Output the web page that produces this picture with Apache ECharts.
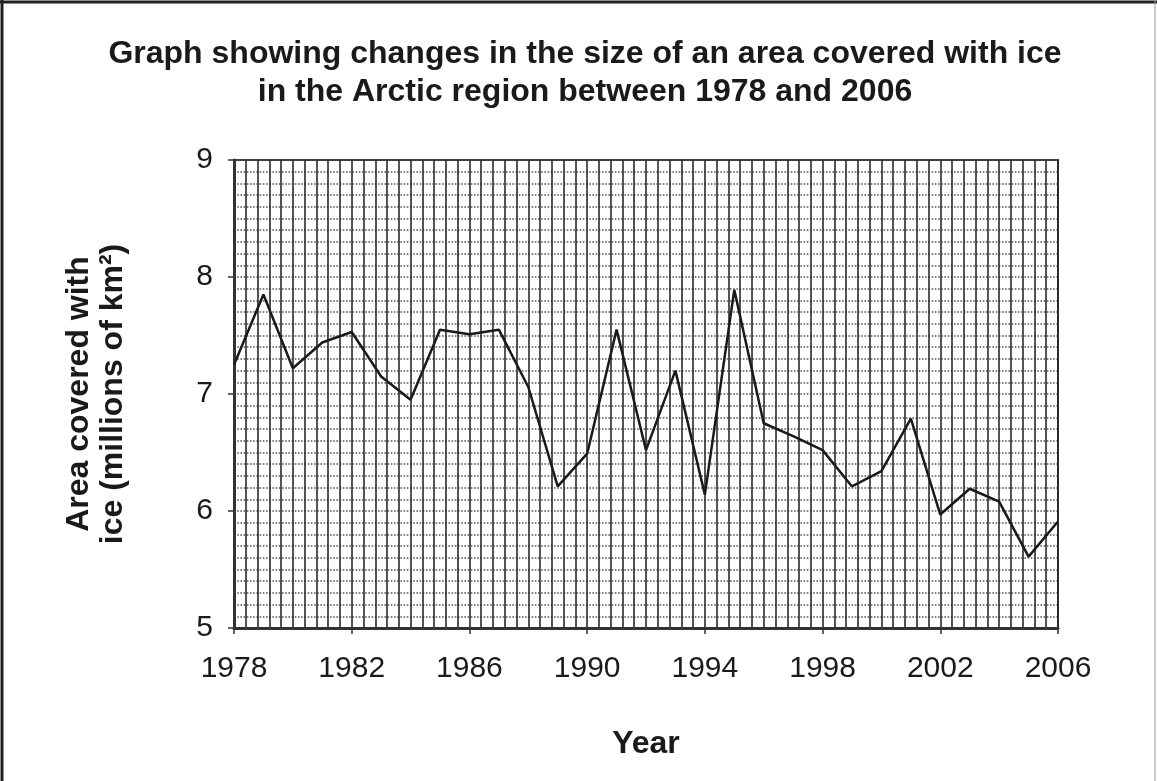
<!DOCTYPE html>
<html>
<head>
<meta charset="utf-8">
<script src="https://cdn.jsdelivr.net/npm/echarts@6/dist/echarts.min.js"></script>
<style>
  html, body { margin: 0; padding: 0; background: #fff; }
  #main { width: 1157px; height: 781px; }
</style>
</head>
<body>
<div id="main"></div>
<script>
// years and ice area (millions of km2)
var years = [1978, 1979, 1980, 1981, 1982, 1983, 1984, 1985, 1986, 1987,
             1988, 1989, 1990, 1991, 1992, 1993, 1994, 1995, 1996, 1997,
             1998, 1999, 2000, 2001, 2002, 2003, 2004, 2005, 2006];
var iceArea = [7.25, 7.85, 7.22, 7.44, 7.53, 7.15, 6.95, 7.55, 7.51, 7.55,
               7.06, 6.21, 6.49, 7.55, 6.52, 7.20, 6.14, 7.89, 6.75, 6.64,
               6.52, 6.21, 6.34, 6.79, 5.97, 6.19, 6.08, 5.61, 5.91];
var yearTicks = [1978, 1982, 1986, 1990, 1994, 1998, 2002, 2006];
var areaTicks = [5, 6, 7, 8, 9];

var font = "'Liberation Sans', Arial, sans-serif";
var chart = echarts.init(document.getElementById('main'));

var points = years.map(function (y, i) { return [y, iceArea[i]]; });

var option = {
    backgroundColor: '#fff',
    animation: false,
    title: {
        text: 'Graph showing changes in the size of an area covered with ice\nin the Arctic region between 1978 and 2006',
        left: 580,
        top: 30,
        textAlign: 'center',
        textStyle: {
            fontFamily: font,
            fontSize: 32,
            fontWeight: 'bold',
            color: '#1a1a1a',
            lineHeight: 38
        }
    },
    grid: {
        left: 234,
        right: 99,
        top: 160,
        bottom: 153,
        show: true,
        borderColor: '#333',
        borderWidth: 2
    },
    xAxis: {
        type: 'value',
        min: yearTicks[0],
        max: yearTicks[yearTicks.length - 1],
        interval: 4,
        name: 'Year',
        nameLocation: 'middle',
        nameGap: 100,
        nameTextStyle: { fontFamily: font, fontSize: 32, fontWeight: 'bold', color: '#1a1a1a' },
        axisLine: { show: true, onZero: false, lineStyle: { color: '#333', width: 3 } },
        axisTick: { show: true, length: 6, lineStyle: { color: '#333', width: 1.5 } },
        axisLabel: {
            margin: 26,
            fontFamily: font, fontSize: 30, color: '#1a1a1a',
            formatter: function (v) { return yearTicks.indexOf(v) >= 0 ? String(v) : ''; }
        },
        splitLine: { show: true, lineStyle: { color: '#2a2a2a', width: 1.6 } },
        minorTick: { show: false, splitNumber: 10 },
        minorSplitLine: { show: true, lineStyle: { color: '#2a2a2a', width: 1.6 } }
    },
    yAxis: {
        type: 'value',
        min: areaTicks[0],
        max: areaTicks[areaTicks.length - 1],
        interval: 1,
        name: 'Area covered with\nice (millions of km²)',
        nameLocation: 'middle',
        nameGap: 104,
        nameTextStyle: { fontFamily: font, fontSize: 32, fontWeight: 'bold', color: '#1a1a1a', lineHeight: 34 },
        axisLine: { show: true, lineStyle: { color: '#333', width: 3 } },
        axisTick: { show: true, length: 6, lineStyle: { color: '#333', width: 1.5 } },
        axisLabel: { margin: 21, fontFamily: font, fontSize: 30, color: '#1a1a1a' },
        splitLine: { show: true, lineStyle: { color: '#555', width: 1.6, type: 'dotted' } },
        minorTick: { show: false, splitNumber: 10 },
        minorSplitLine: { show: true, lineStyle: { color: '#555', width: 1.6, type: 'dotted' } }
    },
    graphic: [
        { type: 'line', shape: { x1: 0, y1: 2, x2: 1157, y2: 2 }, style: { stroke: '#222', lineWidth: 3 } },
        { type: 'line', shape: { x1: 2, y1: 0, x2: 2, y2: 781 }, style: { stroke: '#222', lineWidth: 3 } },
        { type: 'line', shape: { x1: 1155, y1: 0, x2: 1155, y2: 781 }, style: { stroke: '#999', lineWidth: 1 } }
    ],
    series: [{
        type: 'line',
        data: points,
        symbol: 'none',
        lineStyle: { color: '#1a1a1a', width: 2.5 },
        z: 5
    }]
};

chart.setOption(option);
</script>
</body>
</html>
